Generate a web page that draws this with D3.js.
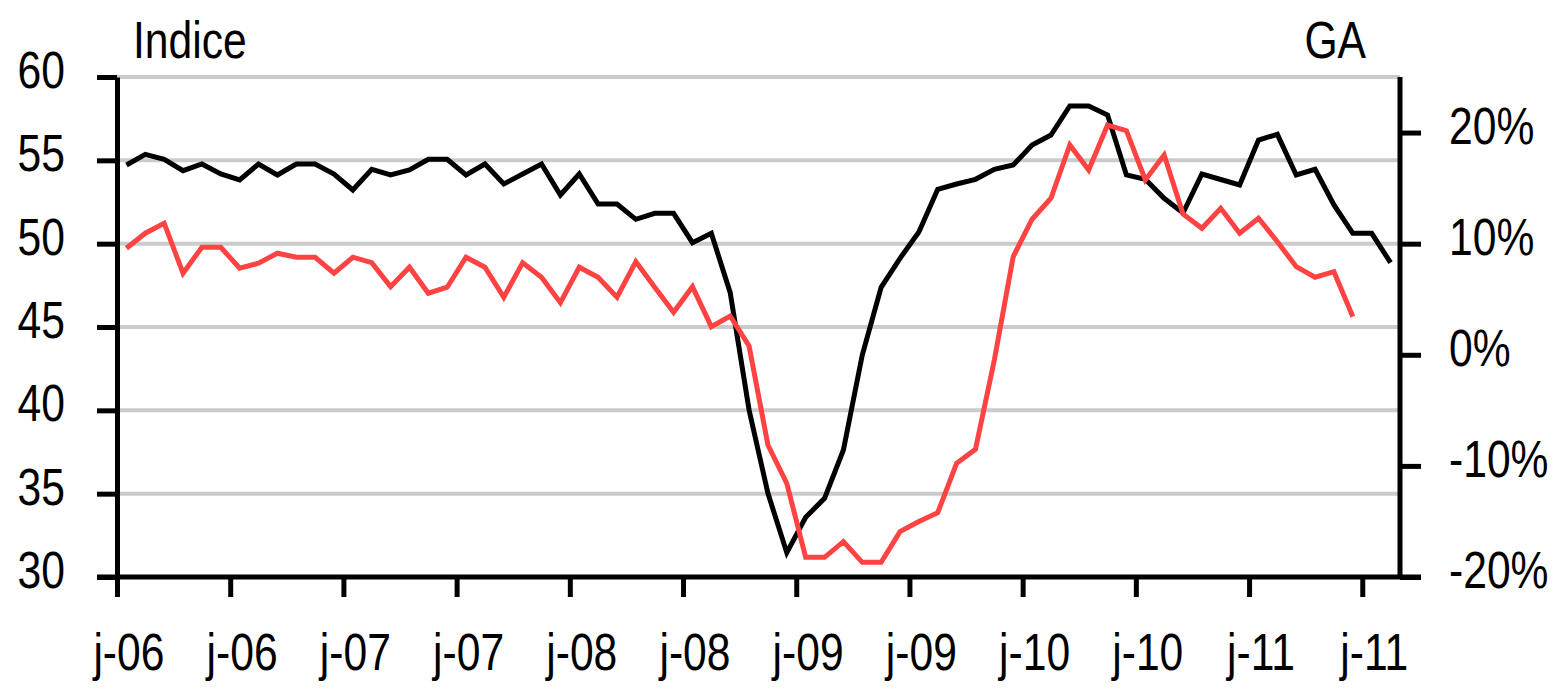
<!DOCTYPE html>
<html>
<head>
<meta charset="utf-8">
<script src="https://cdn.jsdelivr.net/npm/d3@7"></script>
<style>
  html, body { margin: 0; padding: 0; background: #ffffff; }
  svg { display: block; }
  text { font-family: "Liberation Sans", Arial, sans-serif; fill: #000; }
</style>
</head>
<body>
<svg id="chart" width="1562" height="691"></svg>
<script>
// ---- Data ----
const months = [
  "2006-01","2006-02","2006-03","2006-04","2006-05","2006-06","2006-07","2006-08","2006-09","2006-10","2006-11","2006-12",
  "2007-01","2007-02","2007-03","2007-04","2007-05","2007-06","2007-07","2007-08","2007-09","2007-10","2007-11","2007-12",
  "2008-01","2008-02","2008-03","2008-04","2008-05","2008-06","2008-07","2008-08","2008-09","2008-10","2008-11","2008-12",
  "2009-01","2009-02","2009-03","2009-04","2009-05","2009-06","2009-07","2009-08","2009-09","2009-10","2009-11","2009-12",
  "2010-01","2010-02","2010-03","2010-04","2010-05","2010-06","2010-07","2010-08","2010-09","2010-10","2010-11","2010-12",
  "2011-01","2011-02","2011-03","2011-04","2011-05","2011-06","2011-07","2011-08"
];

// Indice (left axis)
const indice = [
  54.72, 55.36, 55.06, 54.38, 54.78, 54.18, 53.82, 54.78, 54.12, 54.78, 54.78, 54.18,
  53.22, 54.46, 54.12, 54.42, 55.06, 55.06, 54.12, 54.78, 53.58, 54.18, 54.78, 52.92,
  54.18, 52.38, 52.38, 51.46, 51.82, 51.82, 50.06, 50.62, 47.06, 40.02, 35.02, 31.46,
  33.58, 34.72, 37.62, 43.32, 47.38, 49.12, 50.70, 53.26, 53.58, 53.86, 54.46, 54.72,
  55.92, 56.52, 58.26, 58.26, 57.72, 54.12, 53.86, 52.72, 51.84, 54.18, 53.85, 53.52,
  56.22, 56.56, 54.12, 54.46, 52.32, 50.62, 50.62, 48.86
];

// GA, % (right axis)
const ga = [
  9.59, 10.94, 11.84, 7.34, 9.68, 9.68, 7.79, 8.24, 9.14, 8.78, 8.78, 7.34,
  8.78, 8.29, 6.13, 7.88, 5.54, 6.08, 8.78, 7.88, 5.18, 8.29, 6.98, 4.69,
  7.88, 6.98, 5.18, 8.38, 6.08, 3.83, 6.13, 2.53, 3.49, 0.79, -8.12, -11.57,
  -18.23, -18.23, -16.82, -18.68, -18.68, -15.92, -15.00, -14.21, -9.77, -8.51, -0.47, 8.83,
  12.20, 14.09, 18.88, 16.63, 20.68, 20.17, 15.73, 17.98, 12.67, 11.38, 13.18, 10.94,
  12.29, 10.18, 7.93, 6.98, 7.48, 3.43, null, null
];

const xTickIndex = [0, 6, 12, 18, 24, 30, 36, 42, 48, 54, 60, 66];
const xTickLabels = ["j-06","j-06","j-07","j-07","j-08","j-08","j-09","j-09","j-10","j-10","j-11","j-11"];
const leftTicks = [30, 35, 40, 45, 50, 55, 60];
const rightTicks = [-20, -10, 0, 10, 20];

// ---- Layout ----
const L = 117, R = 1400, T = 77, B = 577;
const FS = 52;
const SX = 0.82; // narrow (condensed) horizontal scale for text

const svg = d3.select("#chart");

const xi = d3.scaleLinear().domain([0, months.length]).range([L, R]);
const bw = xi(1) - xi(0);
const y = d3.scaleLinear().domain([30, 60]).range([B, T]);
const y2 = d3.scaleLinear().domain([-20, 25]).range([B, T]);

// condensed text helper: place text at (x,y) and squeeze horizontally
function narrow(sel, x, yy) {
  sel.attr("x", x / SX).attr("y", yy).attr("dy", 0)
     .attr("transform", `scale(${SX},1)`)
     .style("font-size", FS + "px")
     .style("font-family", '"Liberation Sans", Arial, sans-serif')
     .attr("fill", "#000");
}

// gridlines
svg.append("g").selectAll("line")
  .data(leftTicks.filter(d => d > 30))
  .join("line")
  .attr("x1", L).attr("x2", R)
  .attr("y1", d => y(d)).attr("y2", d => y(d))
  .attr("stroke", "#cbcbcb").attr("stroke-width", 4);

// lines
const lineIdx = d3.line()
  .defined(d => d != null)
  .x((d, i) => xi(i + 0.5))
  .y(d => y(d));
const lineGa = d3.line()
  .defined(d => d != null)
  .x((d, i) => xi(i + 0.5))
  .y(d => y2(d));

svg.append("path").datum(indice)
  .attr("d", lineIdx).attr("fill", "none")
  .attr("stroke", "#000000").attr("stroke-width", 5)
  .attr("stroke-linejoin", "miter");

svg.append("path").datum(ga)
  .attr("d", lineGa).attr("fill", "none")
  .attr("stroke", "#ff4242").attr("stroke-width", 5)
  .attr("stroke-linejoin", "miter");

// axes
function styleAxis(g) {
  g.selectAll("path.domain").attr("stroke", "#000").attr("stroke-width", 5);
  g.selectAll(".tick line").attr("stroke", "#000").attr("stroke-width", 5);
}

const gLeft = svg.append("g")
  .attr("transform", `translate(${L},0)`)
  .call(d3.axisLeft(y).tickValues(leftTicks).tickFormat(d3.format("d"))
    .tickSize(20).tickSizeOuter(0));
styleAxis(gLeft);
gLeft.selectAll(".tick text").each(function() {
  narrow(d3.select(this).attr("text-anchor", "end"), -52, 10.5);
});

const gRight = svg.append("g")
  .attr("transform", `translate(${R},0)`)
  .call(d3.axisRight(y2).tickValues(rightTicks).tickFormat(d => d + "%")
    .tickSize(21).tickSizeOuter(0));
styleAxis(gRight);
gRight.selectAll("path.domain").attr("d", `M0,${B}V${T}`);
gRight.selectAll(".tick text").each(function() {
  narrow(d3.select(this).attr("text-anchor", "start"), 49, 10.5);
});

const gBottom = svg.append("g")
  .attr("transform", `translate(0,${B})`)
  .call(d3.axisBottom(xi).tickValues(xTickIndex)
    .tickFormat((d, i) => xTickLabels[i])
    .tickSize(20).tickSizeOuter(0));
styleAxis(gBottom);
gBottom.selectAll("path.domain").attr("d", `M${L - 20},0H${R + 21}`);
gBottom.selectAll(".tick text").each(function() {
  narrow(d3.select(this).attr("text-anchor", "middle"), bw / 2 + 2, 93);
});

// axis titles
narrow(svg.append("text").attr("text-anchor", "start").text("Indice"), 133, 58);
narrow(svg.append("text").attr("text-anchor", "end").text("GA"), 1366, 58);
</script>
</body>
</html>
